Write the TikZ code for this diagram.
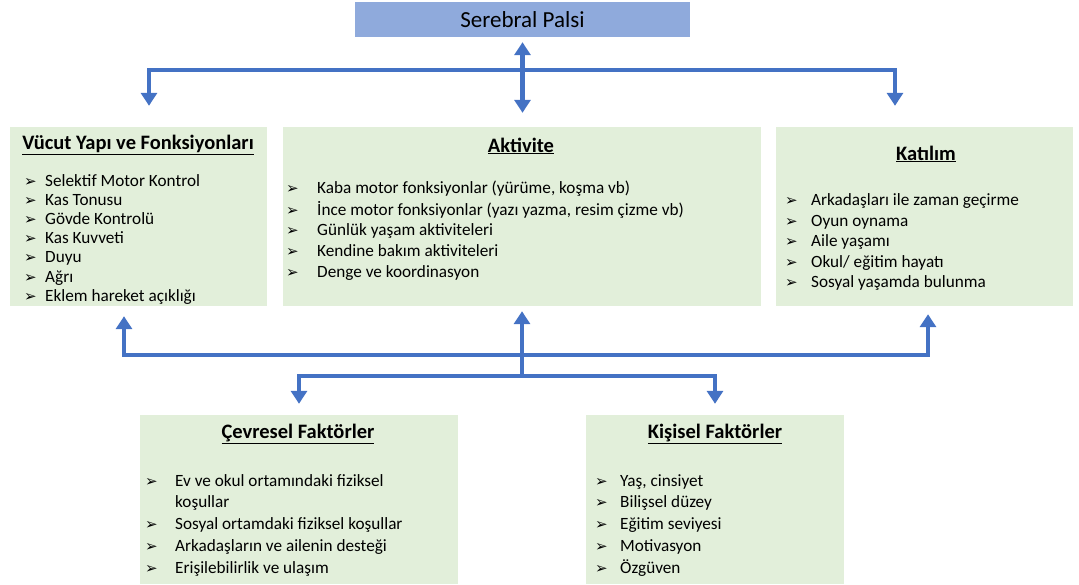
\documentclass[tikz,border=0pt]{standalone}
\usepackage{fontspec}
\setmainfont{Carlito}
\newfontfamily\bulfont{DejaVu Sans}
\usetikzlibrary{arrows.meta}

\definecolor{titleblue}{HTML}{8FAADC}
\definecolor{boxgreen}{HTML}{E2EFDA}
\definecolor{arrowblue}{HTML}{4472C4}

% arrowhead bullet in front of each list item
\newcommand{\bul}{{\fontsize{15}{18}\bulfont\char"27A2}}

\tikzset{
  panel/.style={fill=boxgreen, draw=none, inner sep=0pt},
  headtxt/.style={font=\fontsize{20.5}{24}\selectfont\bfseries, inner sep=0pt},
  itemtxt/.style={font=\fontsize{17.2}{20}\selectfont, anchor=base west, inner sep=0pt},
  bultxt/.style={anchor=base west, inner sep=0pt},
  conn/.style={draw=arrowblue, line width=4.5pt},
  tip/.tip={Triangle[width=16pt,length=13pt]}
}

\begin{document}
\begin{tikzpicture}[x=1pt,y=-1pt]
\useasboundingbox (0,0) rectangle (1079,584);

% title
\node[fill=titleblue, minimum width=335pt, minimum height=35pt, inner sep=0pt,
      font=\fontsize{23}{26}\selectfont] (title) at (522.5,19.5) {Serebral Palsi};

% panels
\node[panel, minimum width=257pt, minimum height=179pt] (b1) at (138.5,216.5) {};
\node[panel, minimum width=478pt, minimum height=179pt] (b2) at (522,216.5) {};
\node[panel, minimum width=297pt, minimum height=179pt] (b3) at (924.5,216.5) {};
\node[panel, minimum width=318pt, minimum height=169pt] (b4) at (299,499.5) {};
\node[panel, minimum width=258pt, minimum height=169pt] (b5) at (715,499.5) {};

% headings
\node[headtxt] (h1) at (138,145) {\underline{Vücut Yapı ve Fonksiyonları}};
\node[headtxt] (h2) at (521,146) {\underline{Aktivite}};
\node[headtxt] (h3) at (926,154) {\underline{Katılım}};
\node[headtxt] (h4) at (298,434) {\underline{Çevresel Faktörler}};
\node[headtxt] (h5) at (715,434) {\underline{Kişisel Faktörler}};

% Vücut Yapı ve Fonksiyonları
\foreach \t/\y [count=\i] in {Selektif Motor Kontrol/181, Kas Tonusu/200, Gövde Kontrolü/219,
    Kas Kuvveti/238, Duyu/257, Ağrı/277, Eklem hareket açıklığı/296} {
  \node[bultxt] (p1-\i) at (24,\y+5) {\bul};
  \node[itemtxt] (t1-\i) at (45,\y+5) {\t};
}

% Aktivite
\foreach \t/\y [count=\i] in {Kaba motor fonksiyonlar (yürüme{,} koşma vb)/188,
    İnce motor fonksiyonlar (yazı yazma{,} resim çizme vb)/210,
    Günlük yaşam aktiviteleri/230, Kendine bakım aktiviteleri/251,
    Denge ve koordinasyon/272} {
  \node[bultxt] (p2-\i) at (286,\y+5) {\bul};
  \node[itemtxt] (t2-\i) at (317,\y+5) {\t};
}

% Katılım
\foreach \t/\y [count=\i] in {Arkadaşları ile zaman geçirme/200, Oyun oynama/221,
    Aile yaşamı/241, {Okul/ eğitim hayatı}/262, Sosyal yaşamda bulunma/282} {
  \node[bultxt] (p3-\i) at (785,\y+5) {\bul};
  \node[itemtxt] (t3-\i) at (811,\y+5) {\t};
}

% Çevresel Faktörler
\foreach \t/\y [count=\i] in {Ev ve okul ortamındaki fiziksel/481,
    Sosyal ortamdaki fiziksel koşullar/524,
    Arkadaşların ve ailenin desteği/546, Erişilebilirlik ve ulaşım/568} {
  \node[bultxt] (p4-\i) at (145,\y+5) {\bul};
  \node[itemtxt] (t4-\i) at (175,\y+5) {\t};
}
\node[itemtxt] (t4-1b) at (175,507) {koşullar};

% Kişisel Faktörler
\foreach \t/\y [count=\i] in {Yaş{,} cinsiyet/481, Bilişsel düzey/502,
    Eğitim seviyesi/524, Motivasyon/546, Özgüven/568} {
  \node[bultxt] (p5-\i) at (595,\y+5) {\bul};
  \node[itemtxt] (t5-\i) at (620,\y+5) {\t};
}

% connector junctions
\coordinate (tl) at (149,70);
\coordinate (tr) at (895,70);
\coordinate (ml) at (124,355);
\coordinate (mr) at (928,355);
\coordinate (mc) at (522,376);

% upper connectors
\draw[conn, tip-tip, shorten <=21pt, shorten >=21pt]
  (b1.north -| tl) -- (tl) -- (tr) -- (b3.north -| tr);
\draw[conn, tip-tip, shorten <=5pt, shorten >=14pt]
  (title.south) -- (title.south |- b2.north);

% lower connectors
\draw[conn, tip-tip, shorten <=10pt, shorten >=8pt]
  (b1.south -| ml) -- (ml) -- (mr) -- (b3.south -| mr);
\draw[conn, -tip, shorten >=5pt] (mc) -- (mc |- b2.south);
\draw[conn, tip-tip, shorten <=11pt, shorten >=11pt]
  (b4.north) -- (b4.north |- mc) -- (b5.north |- mc) -- (b5.north);
\end{tikzpicture}
\end{document}
